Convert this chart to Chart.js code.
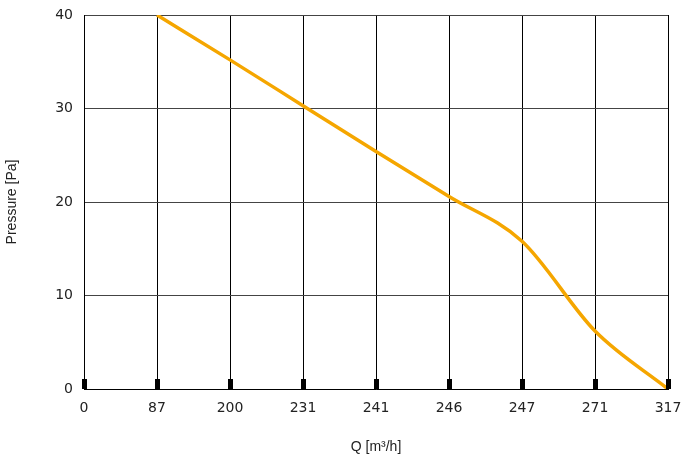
<!DOCTYPE html>
<html>
<head>
<meta charset="utf-8">
<script src="https://cdn.jsdelivr.net/npm/chart.js@4.4.1/dist/chart.umd.min.js"></script>
<style>
html,body{margin:0;padding:0;background:#fff;}
#wrap{width:681px;height:460px;}
</style>
</head>
<body>
<div id="wrap"><canvas id="c" width="681" height="460"></canvas></div>
<script>
const categories = ['0', '87', '200', '231', '241', '246', '247', '271', '317'];
const pressure = [null, 40, 35.2, 30.3, 25.4, 20.6, 15.8, 6.2, 0];
const yTicks = [0, 10, 20, 30, 40];

const tickMarks = {
  id: 'tickMarks',
  afterDatasetsDraw(chart) {
    const ctx = chart.ctx;
    const xs = chart.scales.x;
    const bottom = chart.chartArea.bottom;
    ctx.save();
    ctx.fillStyle = '#000';
    xs.ticks.forEach((t, i) => {
      const px = xs.getPixelForTick(i);
      ctx.fillRect(Math.round(px) - 2, bottom - 10, 5, 10);
    });
    ctx.restore();
  }
};

new Chart(document.getElementById('c'), {
  type: 'line',
  data: {
    labels: categories,
    datasets: [{
      data: pressure,
      borderColor: 'rgb(245,166,0)',
      borderWidth: 3.5,
      pointRadius: 0,
      fill: false,
      cubicInterpolationMode: 'monotone',
      spanGaps: false
    }]
  },
  options: {
    responsive: false,
    animation: false,
    layout: { padding: { top: 15, right: 13, left: 0, bottom: 0 } },
    plugins: { legend: { display: false }, tooltip: { enabled: false } },
    scales: {
      x: {
        type: 'category',
        offset: false,
        grid: { color: '#000', lineWidth: 1, drawTicks: false },
        border: { color: '#000', width: 1 },
        ticks: { color: '#222', font: { family: 'DejaVu Sans', size: 14 }, padding: 11, maxRotation: 0, autoSkip: false },
        title: { display: true, text: 'Q [m³/h]', color: '#222', font: { family: 'Liberation Sans', size: 14 }, padding: { top: 18 } },
        afterFit(s) { s.height = 71; s.paddingLeft = 0; s.paddingRight = 0; }
      },
      y: {
        min: 0, max: 40,
        afterBuildTicks(s) { s.ticks = yTicks.map(v => ({ value: v })); },
        grid: { color: '#444', lineWidth: 1, drawTicks: false },
        border: { color: '#000', width: 1 },
        ticks: { color: '#222', font: { family: 'DejaVu Sans', size: 14 }, padding: 11 },
        title: { display: true, text: 'Pressure [Pa]', color: '#222', font: { family: 'Liberation Sans', size: 14 }, padding: { bottom: 26 } },
        afterFit(s) { s.width = 84; s.paddingTop = 0; s.paddingBottom = 0; }
      }
    }
  },
  plugins: [tickMarks]
});
</script>
</body>
</html>
